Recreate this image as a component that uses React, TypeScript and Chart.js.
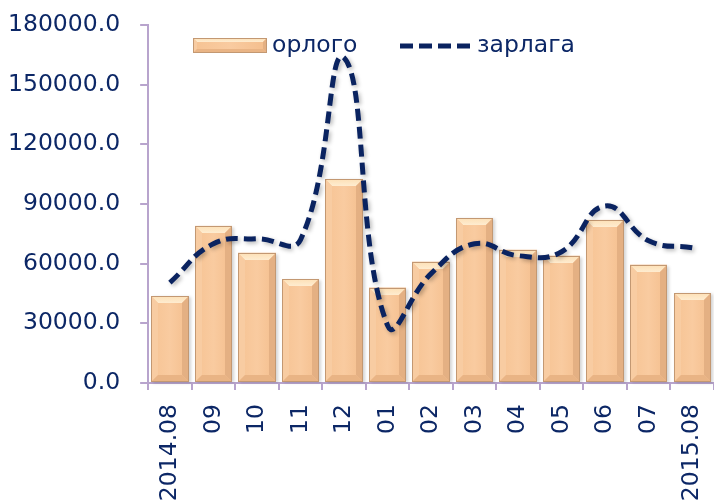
import React, { useEffect, useRef } from "react";
import { Chart, registerables } from "chart.js";

Chart.register(...registerables);

const categories = ["2014.08", "09", "10", "11", "12", "01", "02", "03", "04", "05", "06", "07", "2015.08"];
const orlogo = [43500, 79000, 65500, 52300, 102500, 48000, 61000, 82800, 67000, 64000, 82000, 59500, 45200];
const zarlaga = [50500, 70000, 72500, 72000, 163500, 29000, 55000, 70000, 64000, 66000, 89000, 71500, 68000];
const seriesLabels = ["орлого", "зарлага"];
const yMin = 0;
const yMax = 180000;
const yStep = 30000;

const NAVY = "#0c2766";
const LINE = "#0a2360";
const AXIS = "#b8a4cd";
const FONT = "'DejaVu Sans', Verdana, sans-serif";
const FSIZE = 23.5;

function poly(ctx: CanvasRenderingContext2D, pts: number[][], fill: any) {
  ctx.beginPath();
  ctx.moveTo(pts[0][0], pts[0][1]);
  for (let i = 1; i < pts.length; i++) ctx.lineTo(pts[i][0], pts[i][1]);
  ctx.closePath();
  ctx.fillStyle = fill;
  ctx.fill();
}

function bevelRect(ctx: CanvasRenderingContext2D, left: number, top: number, right: number, bottom: number, bev: number) {
  const w = right - left;
  const h = bottom - top;
  const b = Math.min(bev, w / 2, h / 2);
  const g = ctx.createLinearGradient(left, 0, right, 0);
  g.addColorStop(0, "#f6c393");
  g.addColorStop(0.5, "#f9cba0");
  g.addColorStop(1, "#f4be8d");
  ctx.fillStyle = g;
  ctx.fillRect(left, top, w, h);
  const tg = ctx.createLinearGradient(0, top, 0, top + b);
  tg.addColorStop(0, "#fde0b6");
  tg.addColorStop(1, "#feecd0");
  poly(ctx, [[left, top], [right, top], [right - b, top + b], [left + b, top + b]], tg);
  poly(ctx, [[left, top], [left + b, top + b], [left + b, bottom - b], [left, bottom]], "#f8cca2");
  poly(ctx, [[right, top], [right, bottom], [right - b, bottom - b], [right - b, top + b]], "#e4b083");
  poly(ctx, [[left, bottom], [right, bottom], [right - b, bottom - b], [left + b, bottom - b]], "#e9b485");
  ctx.strokeStyle = "#c39872";
  ctx.lineWidth = 1;
  ctx.strokeRect(left + 0.5, top + 0.5, w - 1, h - 1);
}

const bevelPlugin = {
  id: "bevelBars",
  beforeDatasetDraw(chart: any, args: any) {
    if (args.index === 1) {
      const ctx = chart.ctx;
      ctx.save();
      ctx.shadowColor = "rgba(0,0,0,0.28)";
      ctx.shadowBlur = 4;
      ctx.shadowOffsetX = 2;
      ctx.shadowOffsetY = 2;
    }
  },
  afterDatasetDraw(chart: any, args: any) {
    const ctx = chart.ctx;
    if (args.index === 0) {
      const meta = chart.getDatasetMeta(0);
      ctx.save();
      ctx.shadowColor = "rgba(0,0,0,0.18)";
      ctx.shadowBlur = 3;
      ctx.shadowOffsetX = 2;
      ctx.shadowOffsetY = 1;
      meta.data.forEach((bar: any) => {
        const p = bar.getProps(["x", "y", "base", "width"], true);
        const l = Math.round(p.x - p.width / 2);
        const r = Math.round(p.x + p.width / 2);
        ctx.fillStyle = "#f3bd8b";
        ctx.fillRect(l, p.y, r - l, p.base - p.y);
      });
      ctx.shadowColor = "transparent";
      meta.data.forEach((bar: any) => {
        const p = bar.getProps(["x", "y", "base", "width"], true);
        bevelRect(ctx, Math.round(p.x - p.width / 2), Math.round(p.y), Math.round(p.x + p.width / 2), Math.round(p.base), 7);
      });
      ctx.restore();
    } else if (args.index === 1) {
      ctx.restore();
    }
  },
  afterDraw(chart: any) {
    const ctx = chart.ctx;
    ctx.save();
    bevelRect(ctx, 193, 38, 267, 53, 4);
    ctx.font = `${FSIZE}px ${FONT}`;
    ctx.fillStyle = NAVY;
    ctx.textBaseline = "middle";
    ctx.textAlign = "left";
    ctx.fillText(chart.data.datasets[0].label, 272, 46);
    ctx.strokeStyle = LINE;
    ctx.lineWidth = 5;
    ctx.setLineDash([13, 6]);
    ctx.beginPath();
    ctx.moveTo(400, 46);
    ctx.lineTo(471, 46);
    ctx.stroke();
    ctx.setLineDash([]);
    ctx.fillText(chart.data.datasets[1].label, 477, 46);
    ctx.restore();
  },
};

export default function App() {
  const ref = useRef<HTMLCanvasElement | null>(null);
  useEffect(() => {
    document.body.style.margin = "0";
    if (!ref.current) return;
    const chart = new Chart(ref.current, {
      type: "bar",
      data: {
        labels: categories,
        datasets: [
          {
            type: "bar",
            label: seriesLabels[0],
            data: orlogo,
            backgroundColor: "rgba(0,0,0,0)",
            borderWidth: 0,
            barPercentage: 0.86,
            categoryPercentage: 1,
            order: 1,
          },
          {
            type: "line",
            label: seriesLabels[1],
            data: zarlaga,
            borderColor: LINE,
            borderWidth: 5,
            borderDash: [12, 6],
            tension: 0.45,
            pointRadius: 0,
            fill: false,
            order: 0,
          } as any,
        ],
      },
      options: {
        animation: false,
        responsive: true,
        maintainAspectRatio: false,
        layout: { padding: { left: -12, top: 25, right: -1, bottom: 0 } },
        plugins: {
          legend: { display: false },
          tooltip: { enabled: false },
        },
        scales: {
          x: {
            offset: true,
            grid: { drawOnChartArea: false, color: AXIS, tickLength: 7, lineWidth: 2, offset: true },
            border: { color: AXIS, width: 2 },
            ticks: {
              color: NAVY,
              font: { family: FONT, size: FSIZE },
              minRotation: 90,
              maxRotation: 90,
              autoSkip: false,
              padding: 14,
            },
            afterFit: (s: any) => {
              s.height = 117;
              s.paddingLeft = 0;
              s.paddingRight = 0;
            },
          },
          y: {
            min: yMin,
            max: yMax,
            grid: { drawOnChartArea: false, color: AXIS, tickLength: 8, lineWidth: 2 },
            border: { color: AXIS, width: 2 },
            ticks: {
              stepSize: yStep,
              color: NAVY,
              font: { family: FONT, size: FSIZE },
              padding: 20,
              callback: (v: any) => Number(v).toFixed(1),
            },
            afterFit: (s: any) => {
              s.paddingTop = 14;
              s.paddingBottom = 14;
            },
          },
        },
      },
      plugins: [bevelPlugin],
    });
    return () => chart.destroy();
  }, []);
  return (
    <div style={{ position: "relative", width: 714, height: 500, background: "#fff" }}>
      <canvas ref={ref} />
    </div>
  );
}
